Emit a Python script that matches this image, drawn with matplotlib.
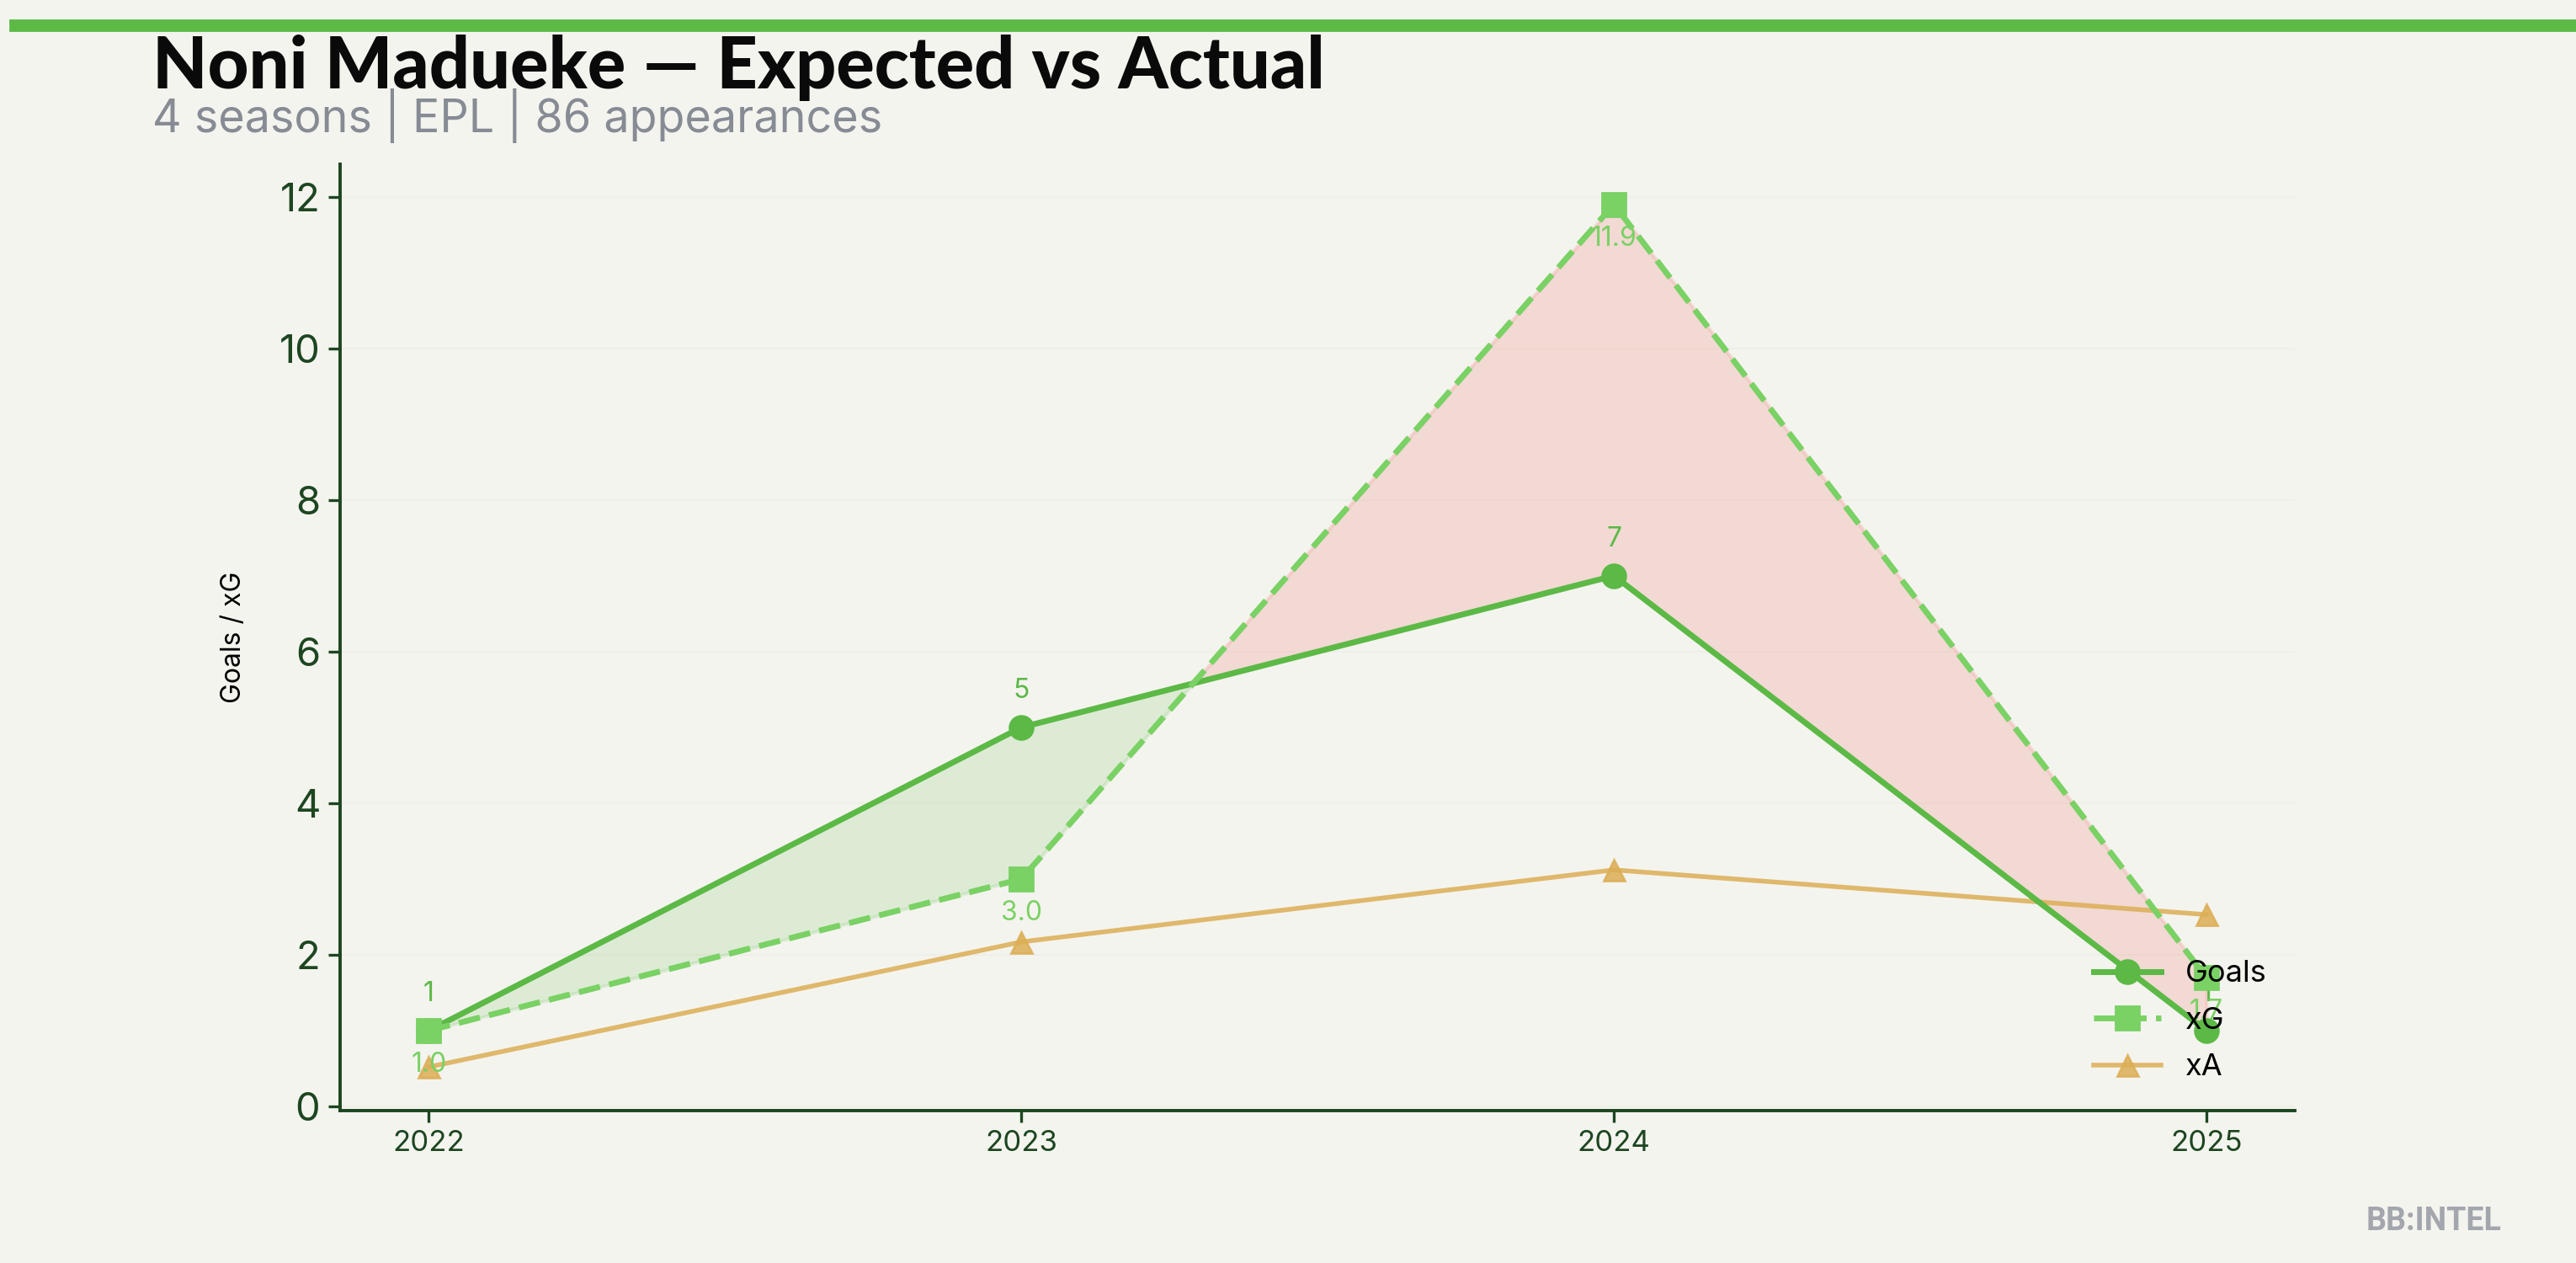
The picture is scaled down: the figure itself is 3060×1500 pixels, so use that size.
import numpy as np
import matplotlib
matplotlib.use('Agg')
import matplotlib.pyplot as plt

# Dados
temporadas = [2022, 2023, 2024, 2025]
gols = [1, 5, 7, 1]
xg = [1.0, 3.0, 11.9, 1.7]
xa = [0.52, 2.17, 3.12, 2.53]

titulo = 'Noni Madueke \u2014 Expected vs Actual'
subtitulo = '4 seasons | EPL | 86 appearances'

cor_fundo = '#f4f4ef'
cor_gols = '#5cb946'
cor_xg = '#7ad164'
cor_xa = '#dcae55'
cor_eixo = '#1d4620'

plt.rcParams['font.family'] = ['Inter', 'DejaVu Sans']

fig = plt.figure(figsize=(15.3, 7.5), dpi=200, facecolor=cor_fundo)
ax = fig.add_axes([0.132, 0.121, 0.759, 0.749])
ax.set_facecolor(cor_fundo)

x = np.array(temporadas, dtype=float)
g = np.array(gols, dtype=float)
e = np.array(xg, dtype=float)

# Preenchimento entre gols e xG
ax.fill_between(x, g, e, where=g >= e, interpolate=True,
                color=cor_gols, alpha=0.15, linewidth=1.5)
ax.fill_between(x, g, e, where=g < e, interpolate=True,
                color='#f0a8a0', alpha=0.35, linewidth=1.5)

# Linhas
ax.plot(x, g, color=cor_gols, linewidth=2.5, marker='o', markersize=10,
        label='Goals', zorder=4)
ax.plot(x, e, color=cor_xg, linewidth=2.5, linestyle='--',
        marker='s', markersize=10, label='xG', zorder=4)
ax.plot(x, xa, color=cor_xa, linewidth=2.0, marker='^', markersize=9,
        alpha=0.85, label='xA', zorder=3)

# Rótulos dos pontos
for xi, gi in zip(x, gols):
    ax.annotate(f'{gi}', (xi, gi), xytext=(0, 10), textcoords='offset points',
                ha='center', va='bottom', fontsize=11.5, color=cor_gols)
for xi, ei in zip(x, xg):
    ax.annotate(f'{ei:.1f}', (xi, ei), xytext=(0, -9), textcoords='offset points',
                ha='center', va='top', fontsize=11.5, color=cor_xg)

ax.set_xlim(2021.85, 2025.15)
ax.set_ylim(-0.05, 12.43)
ax.set_xticks(temporadas)
ax.set_xticklabels([str(t) for t in temporadas])
ax.set_yticks([0, 2, 4, 6, 8, 10, 12])

ax.tick_params(axis='x', labelsize=12.5, colors=cor_eixo, length=5, width=1.2)
ax.tick_params(axis='y', labelsize=17, colors=cor_eixo, length=5, width=1.2)

ax.grid(axis='y', color='#eeefe8', linewidth=0.8)
ax.set_axisbelow(True)
for lado in ['top', 'right']:
    ax.spines[lado].set_visible(False)
for lado in ['left', 'bottom']:
    ax.spines[lado].set_color(cor_eixo)
    ax.spines[lado].set_linewidth(1.4)

ax.set_ylabel('Goals / xG', fontsize=11.5, color='black', labelpad=14)

ax.legend(loc='lower right', frameon=False, fontsize=13,
          handlelength=2.2, borderaxespad=0.55, labelspacing=0.62)

# Barra verde no topo
fig.patches.append(plt.Rectangle((0.004, 0.976), 0.996, 0.008,
                                 transform=fig.transFigure,
                                 color=cor_gols, zorder=0))

fig.text(0.059, 0.93, titulo, fontsize=30.5, fontweight='black',
         color='#0a0a0a', family=['Lato', 'DejaVu Sans'], va='baseline')
fig.text(0.059, 0.908, subtitulo, fontsize=19.4, color='#868b94', va='center')
fig.text(0.971, 0.033, 'BB:INTEL', fontsize=13.5, fontweight='bold',
         color='#a3a6ad', ha='right', va='center',
         family=['Roboto', 'DejaVu Sans'])

fig.savefig('out.png', dpi=200, facecolor=cor_fundo)
